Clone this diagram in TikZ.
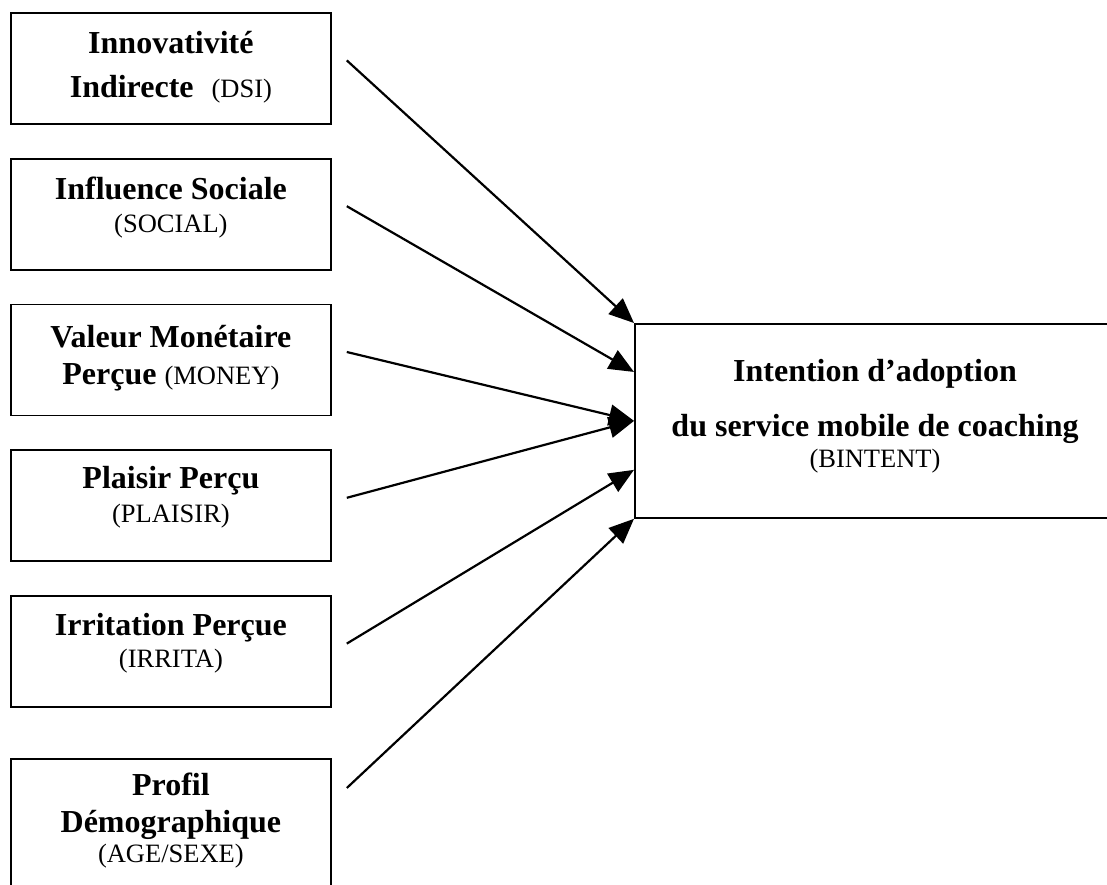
\documentclass[tikz,border=0pt]{standalone}
\usepackage{fontspec}
\setmainfont{Liberation Serif}[Ligatures=NoCommon]
\usetikzlibrary{arrows.meta,positioning,calc}

\newcommand{\bigfont}{\fontsize{32}{37}\selectfont\bfseries}
\newcommand{\smallpar}[1]{{\fontsize{26.5}{30}\selectfont\mdseries #1}}

\begin{document}
\begin{tikzpicture}[x=1pt,y=-1pt,node distance=33pt,every node/.style={inner sep=0pt}]
  \tikzstyle{factor}=[draw,line width=1.8pt,minimum width=320pt,minimum height=111pt]
  \tikzstyle{txt}=[align=center,anchor=north,font=\bigfont]
  \tikzstyle{link}=[line width=2.2pt,-{Triangle[length=25pt,width=21pt]}]

  \useasboundingbox (0,0) rectangle (1107,885);
  \clip (0,0) rectangle (1107,885);

  % les facteurs
  \node[factor,anchor=north west] (dsi) at (10,12) {};
  \node[factor] (social)  [below=of dsi]     {};
  \node[factor] (money)   [below=of social]  {};
  \node[factor] (plaisir) [below=of money]   {};
  \node[factor] (irrita)  [below=of plaisir] {};
  \node[factor,minimum height=160pt] (age) [below=50pt of irrita] {};

  \node[txt] (dsi-t)     at ([yshift=-19pt]dsi.north)     {Innovativité\\[7pt]Indirecte\hspace{18pt}\smallpar{(DSI)}};
  \node[txt] (social-t)  at ([yshift=-19pt]social.north)  {Influence Sociale\\[-4pt]\smallpar{(SOCIAL)}};
  \node[txt] (money-t)   at ([yshift=-21pt]money.north)   {Valeur Monétaire\\Perçue \smallpar{(MONEY)}};
  \node[txt] (plaisir-t) at ([yshift=-17pt]plaisir.north) {Plaisir Perçu\\[-3pt]\smallpar{(PLAISIR)}};
  \node[txt] (irrita-t)  at ([yshift=-18pt]irrita.north)  {Irritation Perçue\\[-5pt]\smallpar{(IRRITA)}};
  \node[txt] (age-t)     at ([yshift=-15pt]age.north)     {Profil\\[0pt]Démographique\\[-7pt]\smallpar{(AGE/SEXE)}};

  % la variable expliquee
  \node[draw,line width=1.8pt,anchor=north west,minimum width=520pt,minimum height=194pt] (bint) at (634,323) {};
  \node[txt] (bint-t) at (875,359) {Intention d’adoption\\[18pt]du service mobile de coaching\\[-6pt]\smallpar{(BINTENT)}};

  \foreach \n in {dsi,social,money,plaisir,irrita}
    \coordinate (\n-o) at ($(\n.east)+(15,-8)$);
  \coordinate (age-o) at ($(age.north east)+(15,30)$);
  \coordinate (bint-a) at ($(bint.north west)!.25!(bint.south west)$);
  \coordinate (bint-c) at ($(bint.north west)!.75!(bint.south west)$);

  \path[link]
  (dsi-o)     edge (bint.north west)
  (social-o)  edge (bint-a)
  (money-o)   edge (bint.west)
  (plaisir-o) edge (bint.west)
  (irrita-o)  edge (bint-c)
  (age-o)     edge (bint.south west);
\end{tikzpicture}
\end{document}
